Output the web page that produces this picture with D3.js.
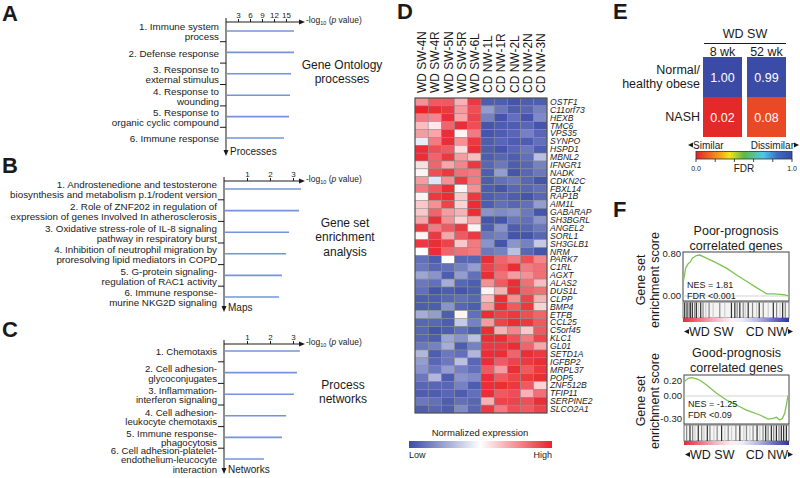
<!DOCTYPE html>
<html><head><meta charset="utf-8">
<script src="https://cdn.jsdelivr.net/npm/d3@7"></script>
<style>body{margin:0;background:#fff}svg{display:block}text{font-family:"Liberation Sans",Arial,sans-serif;fill:#1a1a1a}</style>
</head><body><svg id="c" width="800" height="478"></svg>
<script>
// ---------- DATA ----------
const goTerms = ["1. Immune system|process","2. Defense response","3. Response to|external stimulus","4. Response to|wounding","5. Response to|organic cyclic compound","6. Immune response"];
const goValues = [17, 17, 16.25, 16, 15.75, 14.5];
const goTicks = [3, 6, 9, 12, 15];

const mapTerms = ["1. Androstenedione and testosterone|biosynthesis and metabolism p.1/rodent version","2. Role of ZNF202 in regulation of|expression of genes Involved In atherosclerosis","3. Oxidative stress-role of IL-8 signaling|pathway in respiratory burst","4. Inhibition of neutrophil migration by|proresolving lipid mediators in COPD","5. G-protein signaling-|regulation of RAC1 activity","6. Immune response-|murine NKG2D signaling"];
const mapValues = [3.35, 3.26, 2.83, 2.7, 2.52, 2.39];
const mapTicks = [1, 2, 3];

const netTerms = ["1. Chemotaxis","2. Cell adhesion-|glycoconjugates","3. Inflammation-|interferon signaling","4. Cell adhesion-|leukocyte chemotaxis","5. Immune response-|phagocytosis","6. Cell adhesion-platelet-|endothelium-leucocyte|interaction"];
const netValues = [3.3, 3.17, 3.04, 2.7, 2.52, 1.74];
const netTicks = [1, 2, 3];

const samples = ["WD SW-4N","WD SW-4R","WD SW-5N","WD SW-5R","WD SW-6L","CD NW-1L","CD NW-1R","CD NW-2L","CD NW-2N","CD NW-3N"];
const genes = ["OSTF1","C11orf73","HEXB","TMC6","VPS35","SYNPO","HSPD1","MBNL2","IFNGR1","NADK","CDKN2C","FBXL14","RAP1B","AIM1L","GABARAP","SH3BGRL","ANGEL2","SORL1","SH3GLB1","NRM","PARK7","C1RL","AGXT","ALAS2","DUS1L","CLPP","BMP4","ETFB","CCL25","C5orf45","KLC1","GL01","SETD1A","IGFBP2","MRPL37","POP5","ZNF512B","TFIP11","SERPINE2","SLCO2A1"];
const expr = [
[0.5,0.75,0.75,0.35,0.9,-0.9,-0.9,-0.95,-0.9,-0.9],
[1,0.95,0.9,0.45,0.8,-0.55,-0.75,-0.9,-0.85,-0.7],
[0.6,0.55,0.95,0.4,0.85,-0.7,-0.95,-0.8,-0.95,-0.65],
[0.3,0.1,0.7,0.95,0.8,-0.95,-0.9,-0.9,-0.85,-0.95],
[0.45,0.4,0.95,0.05,0.6,-0.95,-0.9,-0.85,-0.7,-0.85],
[-0.1,0.6,0.95,0.5,0.9,-0.9,-0.85,-0.9,-0.9,-0.8],
[0.95,0.8,0.75,0.15,0.95,-0.9,-0.95,-0.85,-0.75,-0.9],
[0.95,0.7,0.9,0.45,0.3,-0.9,-0.85,-0.9,-0.8,-0.35],
[0.15,0.7,0.4,0.55,0.9,-0.85,-0.75,-0.9,-0.85,-0.7],
[0.05,0.8,0.9,0.65,0.6,-0.9,-0.55,-0.95,-0.85,-0.75],
[0.45,-0.15,0.5,0.9,0.6,-0.9,-0.8,-0.75,-0.85,-0.95],
[0.6,0.75,0.95,0.05,0.5,-0.9,-0.95,-0.85,-0.85,-0.8],
[0.05,0.9,0.95,0.25,0.9,-0.9,-0.85,-0.9,-0.95,-0.85],
[0.25,0.5,0.85,0.2,0.95,-0.9,-0.8,-0.85,-0.8,-0.55],
[0.25,0.7,0.45,0.35,0.95,-0.6,-0.65,-0.6,-0.75,-0.95],
[0.4,0.95,0.5,0.2,0.4,-0.95,-0.95,-0.75,-0.8,-0.6],
[0.9,0.6,0.75,0.9,0.05,-0.9,-0.6,-0.9,-0.85,-0.75],
[0.05,0.9,0.4,0.75,0.9,-0.75,-0.7,-0.95,-0.95,-0.85],
[0.9,0.95,0.85,0.25,0.6,-0.6,-0.95,-0.6,-0.7,-0.3],
[0.0,0.95,0.7,0.65,0.6,-0.75,-0.7,-0.35,-0.85,-0.95],
[-0.8,-0.9,0.0,-0.85,-0.85,0.95,0.7,0.6,0.8,0.55],
[-0.75,-0.85,-0.8,-0.7,-0.55,0.85,0.75,0.95,0.6,0.65],
[-0.5,-0.6,-0.9,-0.55,-0.8,0.95,0.65,0.45,0.5,0.65],
[-0.75,-0.8,-0.45,-0.85,-0.9,0.5,0.75,0.95,0.65,0.3],
[-0.8,-0.95,-0.9,-0.95,-0.9,0.05,0.35,0.95,0.7,0.65],
[-0.9,-0.9,-0.85,-0.8,-0.85,0.3,0.95,0.5,0.85,0.35],
[-0.9,-0.9,-0.6,-0.85,-0.9,0.45,0.95,0.75,0.9,0.2],
[-0.45,-0.55,-0.9,0.05,-0.8,0.95,0.85,0.9,0.8,0.7],
[-0.85,-0.85,-0.9,-0.3,-0.7,0.45,0.85,0.95,0.9,0.75],
[-0.85,-0.95,-0.9,-0.8,-0.9,0.95,0.35,0.55,0.25,0.75],
[-0.85,-0.9,-0.5,-0.6,-0.35,0.95,0.95,0.8,0.6,0.85],
[-0.75,-0.7,-0.45,-0.9,-0.7,0.9,0.9,0.95,0.7,0.4],
[-0.4,-0.9,-0.75,-0.8,-0.4,0.95,0.95,0.7,0.95,0.9],
[-0.55,-0.85,-0.75,-0.35,-0.85,0.95,0.75,0.85,0.9,0.95],
[-0.6,-0.75,-0.55,-0.7,-0.8,0.75,0.45,0.95,0.75,0.9],
[-0.75,-0.4,-0.9,-0.6,-0.65,0.95,0.75,0.85,0.9,0.95],
[-0.85,-0.85,-0.85,-0.7,-0.9,0.95,0.95,0.9,0.75,0.2],
[-0.9,-0.9,-0.85,-0.9,-0.8,0.95,0.75,0.8,0.35,0.65],
[-0.75,-0.8,-0.9,-0.8,-0.85,0.35,0.85,0.85,0.8,0.95],
[-0.9,-0.85,-0.9,-0.65,-0.85,0.9,0.6,0.8,0.75,0.85]
];

const fdrCols = ["8 wk","52 wk"];
const fdrRows = ["Normal/|healthy obese","NASH"];
const fdrValues = [[1.00, 0.02],[0.99, 0.08]]; // [column][row]
const fdrTicks = [0, 0.2, 0.4, 0.6, 0.8, 1.0];

const poorPos = [0,0.025,0.047,0.069,0.088,0.126,0.158,0.221,0.315,0.41,0.505,0.599,0.694,0.757,0.789,0.852,0.915,0.962,1.0];
const poorES  = [0.24,0.53,0.61,0.65,0.72,0.77,0.78,0.72,0.63,0.53,0.40,0.28,0.16,0.08,0.04,0.04,0.03,0.02,0.0];
const poorHits = [0.016,0.038,0.057,0.069,0.088,0.11,0.126,0.145,0.167,0.189,0.215,0.246,0.284,0.347,0.394,0.457,0.489,0.511,0.536,0.568,0.587,0.615,0.656,0.694,0.719,0.757,0.804,0.852,0.883,0.915,0.94,0.965];
const poorShade = [0.85,0.85,0.55,0.85,0.85,0.55,0.85,0.3,0.85,0.55,0.3,0.55,0.3,0.55,0.3,0.85,0.85,0.55,0.85,0.55,0.3,0.85,0.55,0.3,0.85,0.55,0.3,0.85,0.55,0.3,0.85,0.55];
const poorTicks = [0.8, 0.0];

const goodPos = [0,0.041,0.073,0.12,0.152,0.215,0.31,0.405,0.5,0.595,0.722,0.801,0.848,0.88,0.911,0.937,0.959,0.975,0.991];
const goodES  = [0.19,0.236,0.244,0.227,0.21,0.147,0.036,-0.053,-0.12,-0.187,-0.253,-0.307,-0.298,-0.284,-0.32,-0.3,-0.23,-0.12,0.01];
const goodHits = [0.025,0.057,0.082,0.104,0.136,0.168,0.19,0.222,0.247,0.285,0.316,0.358,0.389,0.421,0.453,0.494,0.532,0.57,0.595,0.627,0.658,0.696,0.722,0.753,0.778,0.801,0.832,0.854,0.88,0.905,0.927,0.949,0.975];
const goodShade = [0.55,0.85,0.55,0.3,0.85,0.55,0.3,0.85,0.55,0.3,0.55,0.85,0.3,0.55,0.3,0.55,0.85,0.3,0.55,0.3,0.55,0.85,0.3,0.55,0.85,0.55,0.85,0.55,0.85,0.55,0.85,0.85,0.85];
const goodTicks = [0.2, 0.0, -0.3];

// ---------- DRAW ----------
const svg = d3.select("#c");
const ink = "#1a1a1a";
const barBlue = "#7394dc";
const defs = svg.append("defs");

function panelLetter(t, x, y) {
  svg.append("text").attr("x", x).attr("y", y).attr("font-size", 22).attr("font-weight", "bold").text(t);
}
function multiline(g, lines, x, cy, fs, lh, anchor) {
  const n = lines.length;
  lines.forEach((l, j) => {
    g.append("text").attr("x", x).attr("y", cy + (j - (n - 1) / 2) * lh + fs * 0.35)
      .attr("text-anchor", anchor).attr("font-size", fs).text(l);
  });
}
function logLabel(g, x, y) {
  const t = g.append("text").attr("x", x).attr("y", y).attr("font-size", 8.5);
  t.append("tspan").text("-log");
  t.append("tspan").attr("font-size", 5.5).attr("dy", 2).text("10");
  t.append("tspan").attr("dy", -2).text(" (");
  t.append("tspan").attr("font-style", "italic").text("p");
  t.append("tspan").text(" value)");
}

function enrichPanel(o) {
  const g = svg.append("g");
  const tmax = d3.max(o.ticks);
  const x = d3.scaleLinear().domain([0, tmax]).range([o.x0, o.x0 + tmax * o.ppu]);
  const y = d3.scaleBand().domain(d3.range(o.terms.length)).range(o.band);
  const ax = g.append("g").attr("transform", `translate(0,${o.axisY})`)
    .call(d3.axisTop(x).tickValues(o.ticks).tickSize(3).tickPadding(1).tickFormat(d3.format("d")));
  ax.select(".domain").remove();
  ax.attr("font-family", null).attr("font-size", null);
  ax.selectAll("line").attr("stroke", ink);
  ax.selectAll("text").attr("font-size", 8).style("fill", ink);
  g.append("line").attr("x1", o.x0).attr("x2", o.arrowX - 5).attr("y1", o.axisY).attr("y2", o.axisY).attr("stroke", ink);
  g.append("path").attr("d", `M${o.arrowX},${o.axisY} l-6,-2.5 l0,5 z`).attr("fill", ink);
  logLabel(g, o.arrowX + 1, o.axisY + 1);
  g.append("line").attr("x1", o.x0).attr("x2", o.x0).attr("y1", o.axisY - 4).attr("y2", o.vEnd - 5).attr("stroke", ink);
  g.append("path").attr("d", `M${o.x0},${o.vEnd} l-2.5,-6 l5,0 z`).attr("fill", ink);
  g.append("text").attr("x", o.x0 + 4).attr("y", o.vEnd - 1).attr("font-size", 10).text(o.bottom);
  const step = y.step();
  for (let i = 1; i < o.terms.length; i++) {
    const yy = o.band[0] + i * step;
    g.append("line").attr("x1", o.x0 - 6).attr("x2", o.x0).attr("y1", yy).attr("y2", yy).attr("stroke", ink);
  }
  g.selectAll(".bar").data(o.values).join("line")
    .attr("x1", x(0) + 1).attr("x2", d => x(d))
    .attr("y1", (d, i) => y(i) + y.bandwidth() / 2).attr("y2", (d, i) => y(i) + y.bandwidth() / 2)
    .attr("stroke", barBlue).attr("stroke-width", 1.6);
  o.terms.forEach((t, i) => multiline(g, t.split("|"), o.x0 - 7, y(i) + y.bandwidth() / 2 + 1, o.fs, o.lh, "end"));
  multiline(g, o.title, o.titleX, o.titleY, 12, 14.5, "middle");
}

panelLetter("A", 2, 21);
enrichPanel({terms: goTerms, values: goValues, ticks: goTicks, x0: 226, ppu: 4, band: [20.3, 148.7],
  axisY: 22, arrowX: 305, vEnd: 156, bottom: "Processes", fs: 9.8, lh: 10,
  title: ["Gene Ontology", "processes"], titleX: 342, titleY: 72});

panelLetter("B", 2, 173);
enrichPanel({terms: mapTerms, values: mapValues, ticks: mapTicks, x0: 224, ppu: 23, band: [178.2, 307.8],
  axisY: 181, arrowX: 305, vEnd: 312, bottom: "Maps", fs: 9.8, lh: 10,
  title: ["Gene set", "enrichment", "analysis"], titleX: 345, titleY: 237});

panelLetter("C", 2, 337);
enrichPanel({terms: netTerms, values: netValues, ticks: netTicks, x0: 224, ppu: 23, band: [340.2, 469.8],
  axisY: 344, arrowX: 305, vEnd: 474, bottom: "Networks", fs: 9.6, lh: 9.3,
  title: ["Process", "networks"], titleX: 343, titleY: 392});

// ---------- D heatmap ----------
panelLetter("D", 397, 19);
const hmBlue = "#3a4ca6", hmRed = "#e8232b";
const hColor = d3.scaleLinear().domain([-1, 0, 1]).range([hmBlue, "#ffffff", hmRed]);
const hx = d3.scaleBand().domain(samples).range([415, 547]);
const hy = d3.scaleBand().domain(genes).range([98, 413]);
const hg = svg.append("g");
expr.forEach((row, r) => {
  hg.selectAll(null).data(row).join("rect")
    .attr("x", (d, c) => hx(samples[c])).attr("y", hy(genes[r]))
    .attr("width", hx.bandwidth()).attr("height", hy.bandwidth())
    .attr("fill", d => hColor(d)).attr("stroke", "#8a8a8a").attr("stroke-width", 0.5);
});
hg.append("rect").attr("x", 415).attr("y", 98).attr("width", 132).attr("height", 315)
  .attr("fill", "none").attr("stroke", "#444").attr("stroke-width", 1);
samples.forEach(s => {
  const cx = hx(s) + hx.bandwidth() / 2 + 4.5;
  hg.append("text").attr("transform", `translate(${cx},93) rotate(-90)`).attr("font-size", 12).text(s);
});
genes.forEach(gn => {
  hg.append("text").attr("x", 550).attr("y", hy(gn) + hy.bandwidth() / 2 + 3)
    .attr("font-size", 8.6).attr("font-style", "italic").text(gn);
});
const gradH = defs.append("linearGradient").attr("id", "gH");
gradH.append("stop").attr("offset", "0%").attr("stop-color", hmBlue);
gradH.append("stop").attr("offset", "50%").attr("stop-color", "#ffffff");
gradH.append("stop").attr("offset", "100%").attr("stop-color", hmRed);
hg.append("text").attr("x", 480).attr("y", 436).attr("text-anchor", "middle").attr("font-size", 9.5).text("Normalized expression");
hg.append("rect").attr("x", 409).attr("y", 441).attr("width", 143).attr("height", 7).attr("fill", "url(#gH)");
hg.append("text").attr("x", 409).attr("y", 458).attr("font-size", 9).text("Low");
hg.append("text").attr("x", 552).attr("y", 458).attr("text-anchor", "end").attr("font-size", 9).text("High");

// ---------- E ----------
panelLetter("E", 613, 19);
const fdrScale = d3.scaleLinear().domain([0, 0.25, 0.35, 0.5, 0.7, 0.85, 1])
  .range(["#e3202a", "#f5a21a", "#f2e41a", "#5cba47", "#4ec8e8", "#3a6cc0", "#3b4aa5"]);
const ex = d3.scaleBand().domain(fdrCols).range([703, 786]).paddingInner(0.114);
const ey = d3.scaleBand().domain(fdrRows).range([57, 137]);
const eg = svg.append("g");
eg.append("text").attr("x", 745).attr("y", 38).attr("text-anchor", "middle").attr("font-size", 12.5).text("WD SW");
eg.append("line").attr("x1", 704).attr("x2", 786).attr("y1", 43.5).attr("y2", 43.5).attr("stroke", ink);
fdrCols.forEach((c, ci) => {
  eg.append("text").attr("x", ex(c) + ex.bandwidth() / 2).attr("y", 55.5).attr("text-anchor", "middle").attr("font-size", 12.5).text(c);
  fdrRows.forEach((r, ri) => {
    const v = fdrValues[ci][ri];
    eg.append("rect").attr("x", ex(c)).attr("y", ey(r)).attr("width", ex.bandwidth()).attr("height", ey.bandwidth()).attr("fill", fdrScale(v));
    eg.append("text").attr("x", ex(c) + ex.bandwidth() / 2).attr("y", ey(r) + ey.bandwidth() / 2 + 4.5)
      .attr("text-anchor", "middle").attr("font-size", 12.5).style("fill", "#fff").text(v.toFixed(2));
  });
});
fdrRows.forEach(r => multiline(eg, r.split("|"), 700, ey(r) + ey.bandwidth() / 2, 12.5, 14, "end"));
eg.append("path").attr("d", "M688,145 l5,-2.5 l0,5 z").attr("fill", ink);
eg.append("text").attr("x", 693).attr("y", 148.5).attr("font-size", 10).text("Similar");
eg.append("path").attr("d", "M799,145 l-5,-2.5 l0,5 z").attr("fill", ink);
eg.append("text").attr("x", 794).attr("y", 148.5).attr("text-anchor", "end").attr("font-size", 10).text("Dissimilar");
const gradE = defs.append("linearGradient").attr("id", "gE");
d3.range(0, 1.0001, 0.05).forEach(t => gradE.append("stop").attr("offset", (t * 100) + "%").attr("stop-color", fdrScale(t)));
const fx = d3.scaleLinear().domain([0, 1]).range([696, 792]);
eg.append("rect").attr("x", fx(0)).attr("y", 151.5).attr("width", fx(1) - fx(0)).attr("height", 7.5).attr("fill", "url(#gE)").attr("stroke", "#333").attr("stroke-width", 0.8);
fdrTicks.forEach(t => eg.append("line").attr("x1", fx(t)).attr("x2", fx(t)).attr("y1", 159).attr("y2", 162).attr("stroke", ink).attr("stroke-width", 0.8));
eg.append("text").attr("x", fx(0)).attr("y", 171).attr("text-anchor", "middle").attr("font-size", 7).text("0.0");
eg.append("text").attr("x", fx(1)).attr("y", 171).attr("text-anchor", "middle").attr("font-size", 7).text("1.0");
eg.append("text").attr("x", fx(0.5)).attr("y", 172).attr("text-anchor", "middle").attr("font-size", 10).text("FDR");

// ---------- F ----------
panelLetter("F", 613, 217);
const gradF = defs.append("linearGradient").attr("id", "gF");
[[0, "#e32b35"], [0.15, "#ee7080"], [0.3, "#f4b6c2"], [0.45, "#fbeef2"], [0.55, "#eeeefa"], [0.7, "#b8b8e4"], [0.85, "#7070c8"], [1, "#2e32a8"]]
  .forEach(s => gradF.append("stop").attr("offset", (s[0] * 100) + "%").attr("stop-color", s[1]));

function gsea(o) {
  const g = svg.append("g");
  const x = d3.scaleLinear().domain([0, 1]).range([o.x0, o.x1]);
  const y = d3.scaleLinear().domain(o.dom).range([o.y1, o.y0]);
  multiline(g, o.title, (o.x0 + o.x1) / 2, o.titleY, 12.5, 15, "middle");
  g.append("rect").attr("x", o.x0).attr("y", o.y0).attr("width", o.x1 - o.x0).attr("height", o.y1 - o.y0)
    .attr("fill", "#fff").attr("stroke", "#444").attr("stroke-width", 1);
  g.append("line").attr("x1", o.x0).attr("x2", o.x1).attr("y1", y(0)).attr("y2", y(0)).attr("stroke", "#c8c8c8").attr("stroke-width", 0.8);
  o.ticks.forEach(t => g.append("text").attr("x", o.x0 - 2).attr("y", y(t) + 3.3).attr("text-anchor", "end").attr("font-size", 9.5).text(t.toFixed(2)));
  const line = d3.line().x((d, i) => x(o.pos[i])).y(d => y(d));
  g.append("path").attr("d", line(o.es)).attr("fill", "none").attr("stroke", "#7cc451").attr("stroke-width", 1.3);
  g.append("text").attr("x", o.x0 + 4).attr("y", o.nesY).attr("font-size", 9).text(o.nes);
  g.append("text").attr("x", o.x0 + 4).attr("y", o.nesY + 11).attr("font-size", 9).text(o.fdr);
  // barcode
  g.append("rect").attr("x", o.x0).attr("y", o.bY).attr("width", o.x1 - o.x0).attr("height", 16).attr("fill", "#f4f4f4").attr("stroke", "#555").attr("stroke-width", 0.8);
  g.selectAll(".hit").data(o.hits).join("line")
    .attr("x1", d => x(d)).attr("x2", d => x(d)).attr("y1", o.bY + 0.5).attr("y2", o.bY + 16)
    .attr("stroke", (d, i) => d3.interpolateGreys(o.shade[i])).attr("stroke-width", 1.2);
  g.append("rect").attr("x", o.x0).attr("y", o.bY + 16).attr("width", o.x1 - o.x0).attr("height", 4).attr("fill", "url(#gF)");
  const ly = o.bY + 34;
  g.append("path").attr("d", `M${o.x0 + 1},${ly - 4.5} l5,-2.5 l0,5 z`).attr("fill", ink);
  g.append("text").attr("x", o.x0 + 6).attr("y", ly).attr("font-size", 12.5).text("WD SW");
  g.append("path").attr("d", `M${o.x1 + 4},${ly - 4.5} l-5,-2.5 l0,5 z`).attr("fill", ink);
  g.append("text").attr("x", o.x1 - 1).attr("y", ly).attr("text-anchor", "end").attr("font-size", 12.5).text("CD NW");
  g.append("text").attr("transform", `translate(${o.labX},${o.labY}) rotate(-90)`).attr("text-anchor", "middle").attr("font-size", 12.5).text("Gene set");
  g.append("text").attr("transform", `translate(${o.labX + 14},${o.labY}) rotate(-90)`).attr("text-anchor", "middle").attr("font-size", 12.5).text("enrichment score");
}
gsea({title: ["Poor-prognosis", "correlated genes"], titleY: 238, x0: 683, x1: 789, y0: 252, y1: 301,
  dom: [-0.095, 0.838], ticks: poorTicks, pos: poorPos, es: poorES, hits: poorHits, shade: poorShade,
  nes: "NES = 1.81", fdr: "FDR <0.001", nesY: 288, bY: 302, labX: 645, labY: 280});
gsea({title: ["Good-prognosis", "correlated genes"], titleY: 360, x0: 684, x1: 789, y0: 375, y1: 424,
  dom: [-0.373, 0.28], ticks: goodTicks, pos: goodPos, es: goodES, hits: goodHits, shade: goodShade,
  nes: "NES = -1.25", fdr: "FDR <0.09", nesY: 407, bY: 425, labX: 645, labY: 401});
</script></body></html>
